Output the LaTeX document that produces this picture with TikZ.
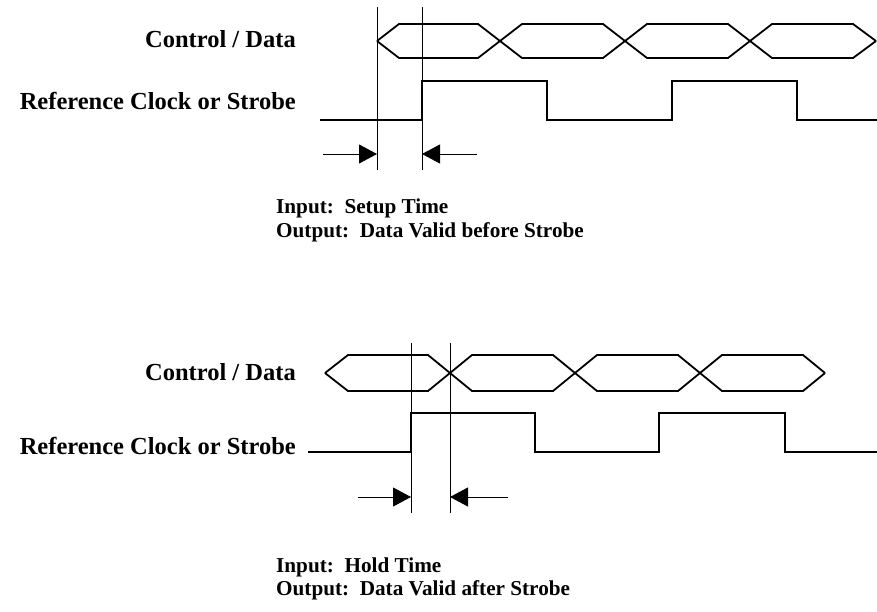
\documentclass[tikz,border=0pt]{standalone}
\usepackage{fontspec}
\setmainfont{Liberation Serif}
\usepackage{tikz}
\usetikzlibrary{arrows.meta, positioning}
\tikzset{>={Triangle[length=18pt,width=19pt]}}
\tikzset{
	wave/.style={line width=1.8pt, line join=miter},
	mark line/.style={line width=0.9pt},
	lbl/.style={font=\fontsize{24.5}{26}\selectfont\bfseries, inner sep=0pt},
	txt/.style={font=\fontsize{21.2}{24}\selectfont\bfseries, inner sep=0pt, anchor=west}
}

\begin{document}
\begin{tikzpicture}[x=1pt, y=-1pt]

			\useasboundingbox (0,0) rectangle (877,611);

			% setup time
			\node[lbl, anchor=east] (CD1) at (296,39) {Control / Data};
			\node[lbl, anchor=east] (RC1) at (296,101) {Reference Clock or Strobe};
			\draw [wave] (377,41)--(399,24)--(478,24)--(522,58)--(603,58)--(647,24)--(728,24)--(772,58)--(853,58)--(876,41);
			\draw [wave] (377,41)--(399,58)--(478,58)--(522,24)--(603,24)--(647,58)--(728,58)--(772,24)--(853,24)--(876,41);
			\draw [wave] (320,120)--(422,120)--(422,81)--(547,81)--(547,120)--(672,120)--(672,81)--(797,81)--(797,120)--(877,120);
			\coordinate (T1) at (377,7);  \coordinate (B1) at (377,170);
			\coordinate (T2) at (422,7);  \coordinate (B2) at (422,170);
			\draw [mark line] (T1)--(B1);
			\draw [mark line] (T2)--(B2);
			\coordinate (L1) at (323,154); \coordinate (P1) at (377,154);
			\coordinate (R1) at (477,154); \coordinate (Q1) at (422,154);
			\draw [->, mark line] (L1)--(P1);
			\draw [->, mark line] (R1)--(Q1);
			\node[txt] (IN1) at (276,208) {Input:\ \ Setup Time};
			\node[txt] (OUT1) at (276,232) {Output:\ \ Data Valid before Strobe};

			% hold time
			\node[lbl, anchor=east] (CD2) at (296,372) {Control / Data};
			\node[lbl, anchor=east] (RC2) at (296,446) {Reference Clock or Strobe};
			\draw [wave] (325,373)--(348,355)--(428,355)--(472,391)--(553,391)--(597,355)--(678,355)--(722,391)--(803,391)--(825,373);
			\draw [wave] (325,373)--(348,391)--(428,391)--(472,355)--(553,355)--(597,391)--(678,391)--(722,355)--(803,355)--(825,373);
			\draw [wave] (308,452)--(411,452)--(411,413)--(535,413)--(535,452)--(659,452)--(659,413)--(785,413)--(785,452)--(877,452);
			\coordinate (T3) at (411,343);  \coordinate (B3) at (411,513);
			\coordinate (T4) at (450,343);  \coordinate (B4) at (450,513);
			\draw [mark line] (T3)--(B3);
			\draw [mark line] (T4)--(B4);
			\coordinate (L2) at (358,497); \coordinate (P2) at (411,497);
			\coordinate (R2) at (508,497); \coordinate (Q2) at (450,497);
			\draw [->, mark line] (L2)--(P2);
			\draw [->, mark line] (R2)--(Q2);
			\node[txt] (IN2) at (276,567) {Input:\ \ Hold Time};
			\node[txt] (OUT2) at (276,590) {Output:\ \ Data Valid after Strobe};

\end{tikzpicture}
\end{document}
